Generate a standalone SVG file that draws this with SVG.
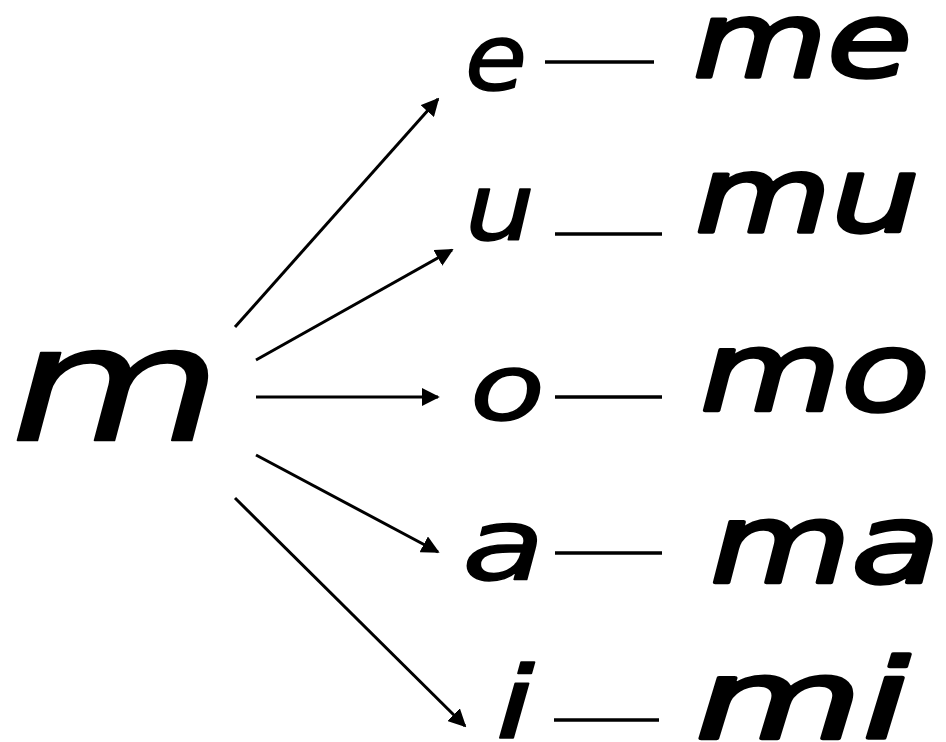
<svg xmlns="http://www.w3.org/2000/svg" width="946" height="742" viewBox="0 0 946 742">
<style>
.t{font-family:"DejaVu Sans","Liberation Sans",sans-serif;font-style:italic;fill:#000;stroke:#000;stroke-width:1.5;stroke-linejoin:round}
.w{stroke-width:3.5}
.c{stroke:#000;stroke-width:3;fill:none}
.d{stroke:#000;stroke-width:3.5;fill:none}
</style>
<defs>
<marker id="ah" viewBox="0 0 10 10" refX="9" refY="5" markerWidth="6" markerHeight="6" orient="auto" markerUnits="strokeWidth">
<path d="M0,0 L10,5 L0,10 z" fill="#000"/>
</marker>
</defs>
<rect width="946" height="742" fill="#fff"/>
<g id="connectors">
<line class="c" x1="235" y1="327" x2="438" y2="99" marker-end="url(#ah)"/>
<line class="c" x1="256" y1="360" x2="452" y2="250" marker-end="url(#ah)"/>
<line class="c" x1="256" y1="397" x2="438" y2="397" marker-end="url(#ah)"/>
<line class="c" x1="256" y1="455" x2="438" y2="552" marker-end="url(#ah)"/>
<line class="c" x1="235" y1="498" x2="465" y2="726" marker-end="url(#ah)"/>
<line class="d" x1="545" y1="62" x2="654" y2="62"/>
<line class="d" x1="555" y1="234" x2="662" y2="234"/>
<line class="d" x1="555" y1="397" x2="662" y2="397"/>
<line class="d" x1="555" y1="553" x2="662" y2="553"/>
<line class="d" x1="554" y1="720" x2="659" y2="720"/>
</g>
<g id="node-m"><text class="t" x="10" y="440" font-size="160" textLength="212" lengthAdjust="spacingAndGlyphs" stroke-width="6">m</text></g>
<g id="node-e"><text class="t" x="465" y="90" font-size="92" textLength="62" lengthAdjust="spacingAndGlyphs">e</text></g>
<g id="node-u"><text class="t" x="465" y="240" font-size="92" textLength="70" lengthAdjust="spacingAndGlyphs">u</text></g>
<g id="node-o"><text class="t" x="470" y="420" font-size="92" textLength="75" lengthAdjust="spacingAndGlyphs">o</text></g>
<g id="node-a"><text class="t" x="462" y="580" font-size="100" textLength="83" lengthAdjust="spacingAndGlyphs">a</text></g>
<g id="node-i"><text class="t" x="495" y="738" font-size="100" textLength="40" lengthAdjust="spacingAndGlyphs">i</text></g>
<g id="node-me"><text class="t w" x="693" y="77" font-size="105" textLength="219" lengthAdjust="spacingAndGlyphs">me</text></g>
<g id="node-mu"><text class="t w" x="695" y="232" font-size="105" textLength="225" lengthAdjust="spacingAndGlyphs">mu</text></g>
<g id="node-mo"><text class="t w" x="700" y="410" font-size="110" textLength="230" lengthAdjust="spacingAndGlyphs">mo</text></g>
<g id="node-ma"><text class="t w" x="710" y="582" font-size="110" textLength="230" lengthAdjust="spacingAndGlyphs">ma</text></g>
<g id="node-mi"><text class="t w" x="695" y="738" font-size="110" textLength="215" lengthAdjust="spacingAndGlyphs">mi</text></g>
</svg>
